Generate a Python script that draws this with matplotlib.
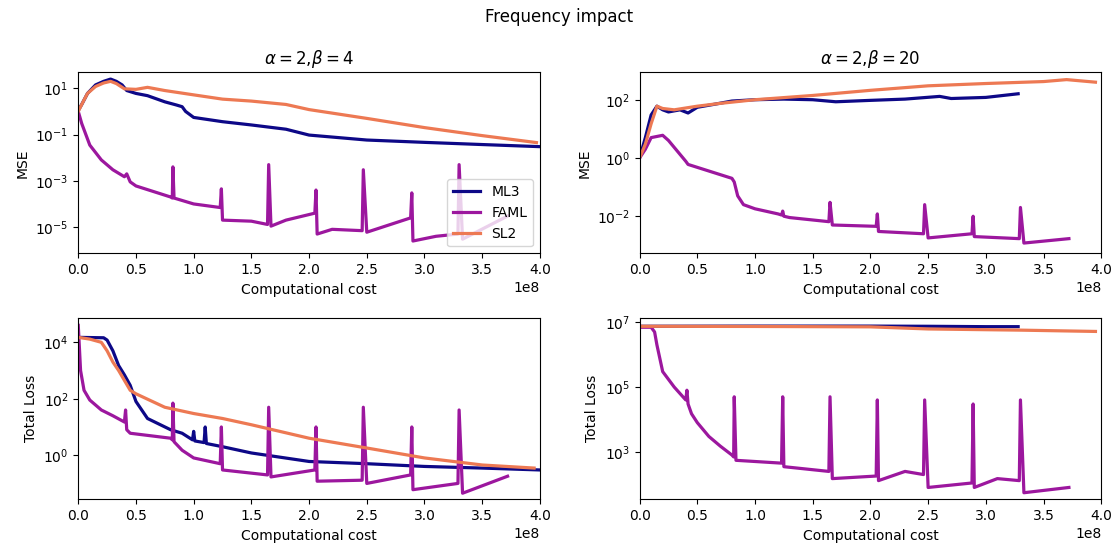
import matplotlib
matplotlib.use("Agg")
import matplotlib.pyplot as plt
from matplotlib.ticker import FixedLocator, NullLocator

# ---------------- data (x in units of 1e8 computational cost) ----------------
labels = ["ML3", "FAML", "SL2"]
colors = ["#0d0887", "#9c179e", "#ed7953"]
titles = [r"$\alpha = 2{,}\beta = 4$", r"$\alpha = 2{,}\beta = 20$"]

# MSE, alpha=2, beta=4
mse4_ml3_x = [0.0, 0.03, 0.08, 0.15, 0.22, 0.28, 0.33, 0.38, 0.42, 0.5, 0.6, 0.75, 0.85, 0.9, 0.93, 1.0, 1.25, 1.5, 1.8, 2.0, 2.5, 3.0, 3.5, 4.0]
mse4_ml3_y = [1.1, 2.0, 6.0, 14.0, 20.0, 25.0, 20.0, 14.0, 8.0, 6.0, 4.8, 2.6, 1.9, 1.6, 1.0, 0.55, 0.36, 0.26, 0.17, 0.095, 0.058, 0.046, 0.037, 0.03]
mse4_sl2_x = [0.0, 0.03, 0.08, 0.15, 0.22, 0.28, 0.33, 0.4, 0.5, 0.6, 0.75, 1.0, 1.25, 1.5, 1.8, 2.0, 2.5, 3.0, 3.5, 3.97]
mse4_sl2_y = [1.0, 2.0, 6.0, 12.0, 17.0, 20.0, 16.0, 9.5, 9.0, 11.0, 8.0, 5.2, 3.4, 2.8, 2.0, 1.2, 0.5, 0.2, 0.09, 0.045]
mse4_faml_x = [0.0, 0.03, 0.1, 0.2, 0.3, 0.4, 0.42, 0.45, 0.5, 0.8, 0.815, 0.82, 0.83, 1.0, 1.23, 1.24, 1.25, 1.5, 1.64, 1.65, 1.67, 1.8, 2.05, 2.06, 2.07, 2.2, 2.46, 2.47, 2.5, 2.88, 2.89, 2.9, 3.1, 3.29, 3.3, 3.33, 3.72]
mse4_faml_y = [1.0, 0.3, 0.035, 0.008, 0.003, 0.0015, 0.002, 0.0009, 0.0006, 0.0002, 0.00018, 0.004, 0.00018, 0.0001, 0.00007, 0.00045, 0.00002, 0.000018, 0.000013, 0.005, 0.000011, 0.00002, 0.00004, 0.0004, 0.000005, 0.000008, 0.000007, 0.003, 0.000006, 0.000025, 0.0003, 0.0000025, 0.000004, 0.000005, 0.005, 0.000003, 0.00003]

# MSE, alpha=2, beta=20
mse20_ml3_x = [0.0, 0.05, 0.1, 0.15, 0.2, 0.25, 0.35, 0.42, 0.5, 0.65, 0.8, 1.0, 1.25, 1.5, 1.7, 2.0, 2.3, 2.6, 2.7, 3.0, 3.28]
mse20_ml3_y = [1.0, 5.0, 30.0, 60.0, 45.0, 38.0, 45.0, 35.0, 55.0, 70.0, 90.0, 100.0, 105.0, 100.0, 85.0, 95.0, 105.0, 130.0, 110.0, 120.0, 160.0]
mse20_sl2_x = [0.0, 0.05, 0.1, 0.15, 0.2, 0.3, 0.5, 0.7, 1.0, 1.5, 2.0, 2.5, 3.0, 3.5, 3.7, 3.95]
mse20_sl2_y = [1.0, 3.0, 15.0, 60.0, 50.0, 45.0, 60.0, 75.0, 100.0, 140.0, 210.0, 300.0, 360.0, 420.0, 490.0, 400.0]
mse20_faml_x = [0.0, 0.05, 0.1, 0.2, 0.25, 0.4, 0.42, 0.8, 0.82, 0.85, 0.9, 1.0, 1.2, 1.23, 1.24, 1.25, 1.3, 1.64, 1.65, 1.67, 2.05, 2.06, 2.07, 2.46, 2.47, 2.5, 2.88, 2.89, 2.9, 3.29, 3.3, 3.33, 3.72]
mse20_faml_y = [1.0, 2.0, 5.0, 6.0, 4.0, 0.77, 0.6, 0.2, 0.15, 0.05, 0.025, 0.018, 0.012, 0.011, 0.015, 0.01, 0.009, 0.0065, 0.03, 0.005, 0.0045, 0.012, 0.003, 0.0025, 0.025, 0.0018, 0.0025, 0.01, 0.002, 0.0017, 0.02, 0.0012, 0.0017]

# Total loss, alpha=2, beta=4
loss4_ml3_x = [0.0, 0.22, 0.25, 0.3, 0.35, 0.4, 0.45, 0.5, 0.6, 0.8, 0.9, 0.99, 1.0, 1.01, 1.09, 1.1, 1.11, 1.25, 1.5, 2.0, 2.5, 3.0, 3.5, 4.0]
loss4_ml3_y = [15000, 14500, 12000, 5000, 1500, 700, 300, 80, 20, 8, 6, 3.5, 7, 3.2, 2.8, 10, 2.6, 2.0, 1.2, 0.6, 0.5, 0.4, 0.35, 0.3]
loss4_sl2_x = [0.0, 0.1, 0.2, 0.25, 0.3, 0.35, 0.45, 0.5, 0.75, 1.0, 1.25, 1.5, 2.0, 2.5, 3.0, 3.5, 3.95]
loss4_sl2_y = [15000, 13000, 10000, 5000, 2000, 1000, 200, 150, 50, 30, 20, 12, 4, 1.8, 0.8, 0.45, 0.35]
loss4_faml_x = [0.0, 0.02, 0.05, 0.1, 0.2, 0.3, 0.4, 0.41, 0.42, 0.45, 0.8, 0.815, 0.82, 0.83, 0.9, 1.0, 1.23, 1.24, 1.25, 1.64, 1.65, 1.67, 2.05, 2.06, 2.07, 2.46, 2.47, 2.5, 2.88, 2.89, 2.9, 3.29, 3.3, 3.33, 3.72]
loss4_faml_y = [40000, 1000, 200, 90, 40, 25, 15, 40, 8, 6, 4, 3.5, 70, 3, 1.5, 0.8, 0.5, 10, 0.3, 0.2, 50, 0.17, 0.3, 10, 0.12, 0.13, 50, 0.1, 0.2, 10, 0.06, 0.1, 40, 0.045, 0.18]

# Total loss, alpha=2, beta=20
loss20_ml3_x = [0.0, 1.0, 2.0, 2.5, 3.0, 3.28]
loss20_ml3_y = [7.5e6, 7.6e6, 7.6e6, 7.5e6, 7.3e6, 7.3e6]
loss20_sl2_x = [0.0, 1.0, 2.0, 2.5, 3.3, 3.95]
loss20_sl2_y = [7.5e6, 7.4e6, 7.2e6, 6.2e6, 5.7e6, 5.2e6]
loss20_faml_x = [0.0, 0.1, 0.13, 0.15, 0.2, 0.3, 0.4, 0.41, 0.42, 0.45, 0.5, 0.6, 0.7, 0.8, 0.815, 0.82, 0.835, 1.23, 1.24, 1.25, 1.64, 1.65, 1.67, 2.05, 2.06, 2.07, 2.3, 2.46, 2.47, 2.5, 2.88, 2.89, 2.9, 3.1, 3.29, 3.3, 3.33, 3.72]
loss20_faml_y = [7e6, 7e6, 5e6, 2e6, 3e5, 1e5, 4e4, 8e4, 3e4, 1.5e4, 8e3, 3e3, 1.5e3, 800, 700, 5e4, 550, 450, 5e4, 350, 250, 5e4, 150, 180, 4e4, 130, 250, 200, 4e4, 80, 110, 3e4, 80, 150, 130, 4e4, 55, 80]

panels = [
    [(mse4_ml3_x, mse4_ml3_y), (mse4_faml_x, mse4_faml_y), (mse4_sl2_x, mse4_sl2_y)],
    [(mse20_ml3_x, mse20_ml3_y), (mse20_faml_x, mse20_faml_y), (mse20_sl2_x, mse20_sl2_y)],
    [(loss4_ml3_x, loss4_ml3_y), (loss4_faml_x, loss4_faml_y), (loss4_sl2_x, loss4_sl2_y)],
    [(loss20_ml3_x, loss20_ml3_y), (loss20_faml_x, loss20_faml_y), (loss20_sl2_x, loss20_sl2_y)],
]
ylabels = ["MSE", "MSE", "Total Loss", "Total Loss"]
ylims = [(10**-6.13, 10**1.69), (10**-3.27, 10**2.94), (10**-1.56, 10**4.85), (10**1.54, 10**7.12)]
ytick_exps = [[-5, -3, -1, 1], [-2, 0, 2], [0, 2, 4], [3, 5, 7]]

# ---------------- figure ----------------
fig, axes = plt.subplots(2, 2, figsize=(11.18, 5.48), dpi=100)
fig.subplots_adjust(left=0.07, right=0.985, top=0.868, bottom=0.089, wspace=0.216, hspace=0.36)
fig.suptitle("Frequency impact", fontsize=12, y=0.985)

for i, ax in enumerate(axes.flat):
    for (x, y), lab, c in zip(panels[i], labels, colors):
        ax.plot([v * 1e8 for v in x], y, color=c, lw=2.3, label=lab)
    ax.set_yscale("log")
    ax.set_xlim(0, 4e8)
    ax.set_ylim(*ylims[i])
    ax.yaxis.set_major_locator(FixedLocator([10.0 ** e for e in ytick_exps[i]]))
    ax.yaxis.set_minor_locator(NullLocator())
    ax.set_xlabel("Computational cost", labelpad=4)
    ax.set_ylabel(ylabels[i])
    if i < 2:
        ax.set_title(titles[i], fontsize=12)

axes[0, 0].legend(loc="lower right")

fig.savefig("out.png", dpi=100)
